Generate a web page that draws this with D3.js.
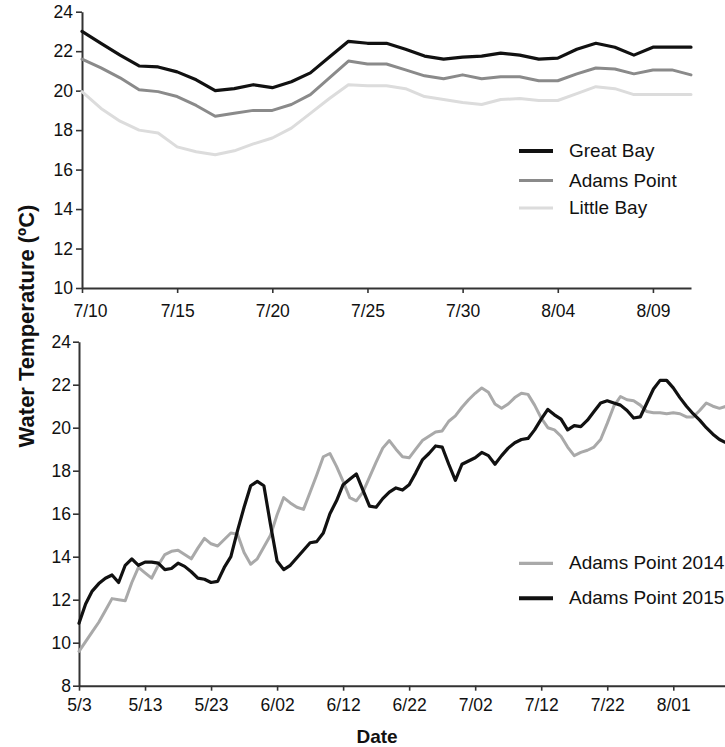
<!DOCTYPE html>
<html><head><meta charset="utf-8">
<script src="https://cdn.jsdelivr.net/npm/d3@7"></script>
<style>
html,body{margin:0;padding:0;background:#fff;}
svg{display:block;font-family:"Liberation Sans",Arial,Helvetica,sans-serif;}
</style></head><body>
<svg id="chart" width="725" height="747"></svg>
<script>
// Upper panel: daily mean water temperature (°C) at three estuary sites, 7/10 – 8/11
const siteStart = new Date(2015, 6, 10);
const greatBay = [23.0,22.4,21.8,21.25,21.2,20.95,20.55,20.0,20.1,20.3,20.15,20.45,20.9,21.7,22.5,
  22.4,22.4,22.1,21.75,21.6,21.7,21.75,21.9,21.8,21.6,21.65,22.1,22.4,22.2,21.8,22.2,22.2,22.2];
const adamsPoint = [21.6,21.15,20.65,20.05,19.95,19.7,19.25,18.7,18.85,19.0,19.0,19.3,19.8,20.65,21.5,
  21.35,21.35,21.05,20.75,20.6,20.8,20.6,20.7,20.7,20.5,20.5,20.85,21.15,21.1,20.85,21.05,21.05,20.8];
const littleBay = [19.95,19.1,18.45,18.0,17.85,17.15,16.9,16.75,16.95,17.3,17.6,18.1,18.85,19.6,20.3,
  20.25,20.25,20.1,19.7,19.55,19.4,19.3,19.55,19.6,19.5,19.5,19.85,20.2,20.1,19.8,19.8,19.8,19.8];
const siteNames = ["Great Bay", "Adams Point", "Little Bay"];
const siteTickLabels = ["7/10", "7/15", "7/20", "7/25", "7/30", "8/04", "8/09"];
const siteYTicks = [10, 12, 14, 16, 18, 20, 22, 24];

// Lower panel: Adams Point, two seasons on a shared calendar axis from 5/3
const seasonStart = new Date(2015, 4, 3);
const adams2014 = [9.6,10.05,10.5,10.95,11.5,12.05,12.0,11.95,12.8,13.5,13.25,13.0,13.6,14.1,14.25,14.3,
  14.1,13.9,14.4,14.85,14.6,14.5,14.8,15.1,15.05,14.2,13.65,13.9,14.45,15.0,15.95,16.75,16.5,16.3,16.2,
  17.0,17.8,18.65,18.8,18.2,17.5,16.75,16.6,17.0,17.7,18.4,19.05,19.4,19.0,18.65,18.6,19.0,19.4,19.6,
  19.8,19.85,20.3,20.55,20.95,21.3,21.6,21.85,21.65,21.1,20.9,21.1,21.4,21.6,21.55,21.05,20.45,20.0,
  19.9,19.6,19.1,18.7,18.85,18.95,19.1,19.45,20.2,21.0,21.45,21.3,21.25,21.05,20.75,20.7,20.7,20.65,
  20.7,20.65,20.5,20.5,20.8,21.15,21.0,20.9,21.0];
const adams2015 = [10.9,11.8,12.4,12.75,13.0,13.15,12.8,13.6,13.9,13.6,13.75,13.75,13.7,13.4,13.45,13.7,
  13.55,13.3,13.0,12.95,12.8,12.85,13.5,14.0,15.2,16.3,17.3,17.5,17.3,15.5,13.8,13.4,13.6,13.95,14.3,
  14.65,14.7,15.1,16.0,16.6,17.35,17.6,17.85,17.1,16.35,16.3,16.7,17.0,17.2,17.1,17.35,17.9,18.5,18.8,
  19.15,19.1,18.3,17.55,18.3,18.45,18.6,18.85,18.7,18.3,18.7,19.05,19.3,19.45,19.5,19.9,20.4,20.85,
  20.6,20.4,19.9,20.1,20.05,20.35,20.75,21.15,21.25,21.15,21.05,20.8,20.45,20.5,21.15,21.8,22.2,22.2,
  21.85,21.4,21.0,20.65,20.35,20.0,19.7,19.45,19.3];
const seasonNames = ["Adams Point 2014", "Adams Point 2015"];
const seasonTickLabels = ["5/3", "5/13", "5/23", "6/02", "6/12", "6/22", "7/02", "7/12", "7/22", "8/01"];
const seasonYTicks = [8, 10, 12, 14, 16, 18, 20, 22, 24];

const svg = d3.select("#chart");
const axisColor = "#333";
const tickFont = "17.5px";

function styleAxis(g) {
  g.select(".domain").attr("stroke", axisColor).attr("stroke-width", 2);
  g.selectAll(".tick line").attr("stroke", axisColor).attr("stroke-width", 1.6);
  g.selectAll(".tick text").attr("fill", "#111").style("font-size", tickFont).attr("font-family", null);
  g.attr("font-family", null).attr("font-size", null);
}

function drawLine(xScale, yScale, start, values, color, width) {
  const line = d3.line()
    .x((d, i) => xScale(d3.timeDay.offset(start, i)))
    .y(d => yScale(d));
  svg.append("path")
    .datum(values)
    .attr("d", line)
    .attr("fill", "none")
    .attr("stroke", color)
    .attr("stroke-width", width)
    .attr("stroke-linejoin", "round")
    .attr("stroke-linecap", "round");
}

function drawLegend(names, colors, widths, x0, ys) {
  names.forEach((name, i) => {
    svg.append("line")
      .attr("x1", x0).attr("x2", x0 + 34)
      .attr("y1", ys[i]).attr("y2", ys[i])
      .attr("stroke", colors[i]).attr("stroke-width", widths[i]);
    svg.append("text")
      .attr("x", x0 + 50).attr("y", ys[i] + 6)
      .style("font-size", "19px").attr("fill", "#111")
      .text(name);
  });
}

// ---------- upper panel ----------
const xTop = d3.scaleTime()
  .domain([siteStart, d3.timeDay.offset(siteStart, 32)])
  .range([82, 691]);
const yTop = d3.scaleLinear().domain([10, 24]).range([288, 11.7]);

const siteTickDates = siteTickLabels.map((_, i) => d3.timeDay.offset(siteStart, i * 5));

const topXAxis = svg.append("g")
  .attr("transform", "translate(0,288)")
  .call(d3.axisBottom(xTop).tickValues(siteTickDates)
    .tickFormat((d, i) => siteTickLabels[i]).tickSize(5).tickSizeOuter(0).tickPadding(12))
  .call(styleAxis);
// first date label sits just right of the y axis
topXAxis.select(".tick text").attr("dx", 8);

svg.append("g")
  .attr("transform", "translate(82,0)")
  .call(d3.axisLeft(yTop).tickValues(siteYTicks).tickSize(6).tickSizeOuter(0).tickPadding(3))
  .call(styleAxis);

const siteColors = ["#111111", "#8a8a8a", "#dcdcdc"];
const siteWidths = [3.2, 3, 3];
[littleBay, adamsPoint, greatBay].forEach((vals, k) => {
  const i = 2 - k;
  drawLine(xTop, yTop, siteStart, vals, siteColors[i], siteWidths[i]);
});
drawLegend(siteNames, siteColors, [4, 3.2, 3.2], 519, [151, 180.5, 208]);

// ---------- lower panel ----------
const xBot = d3.scaleTime()
  .domain([seasonStart, d3.timeDay.offset(seasonStart, 100)])
  .range([79, 739.3]);
const yBot = d3.scaleLinear().domain([8, 24]).range([685.7, 341.7]);

const seasonTickDates = seasonTickLabels.map((_, i) => d3.timeDay.offset(seasonStart, i * 10));

svg.append("g")
  .attr("transform", "translate(0,685.7)")
  .call(d3.axisBottom(xBot).tickValues(seasonTickDates)
    .tickFormat((d, i) => seasonTickLabels[i]).tickSize(5).tickSizeOuter(0).tickPadding(8))
  .call(styleAxis);
svg.append("g")
  .attr("transform", "translate(79,0)")
  .call(d3.axisLeft(yBot).tickValues(seasonYTicks).tickSize(6).tickSizeOuter(0).tickPadding(2))
  .call(styleAxis);

const seasonColors = ["#a9a9a9", "#111111"];
drawLine(xBot, yBot, seasonStart, adams2014, seasonColors[0], 3);
drawLine(xBot, yBot, seasonStart, adams2015, seasonColors[1], 3.2);
drawLegend(seasonNames, seasonColors, [3.2, 4], 519, [563.3, 598.3]);

// ---------- axis titles ----------
svg.append("text")
  .attr("transform", "translate(34,326) rotate(-90)")
  .attr("text-anchor", "middle")
  .style("font-size", "22px").style("font-weight", "bold").attr("fill", "#111")
  .text("Water Temperature (ºC)");
svg.append("text")
  .attr("x", 377).attr("y", 743)
  .attr("text-anchor", "middle")
  .style("font-size", "19px").style("font-weight", "bold").attr("fill", "#111")
  .text("Date");
</script>
</body></html>
